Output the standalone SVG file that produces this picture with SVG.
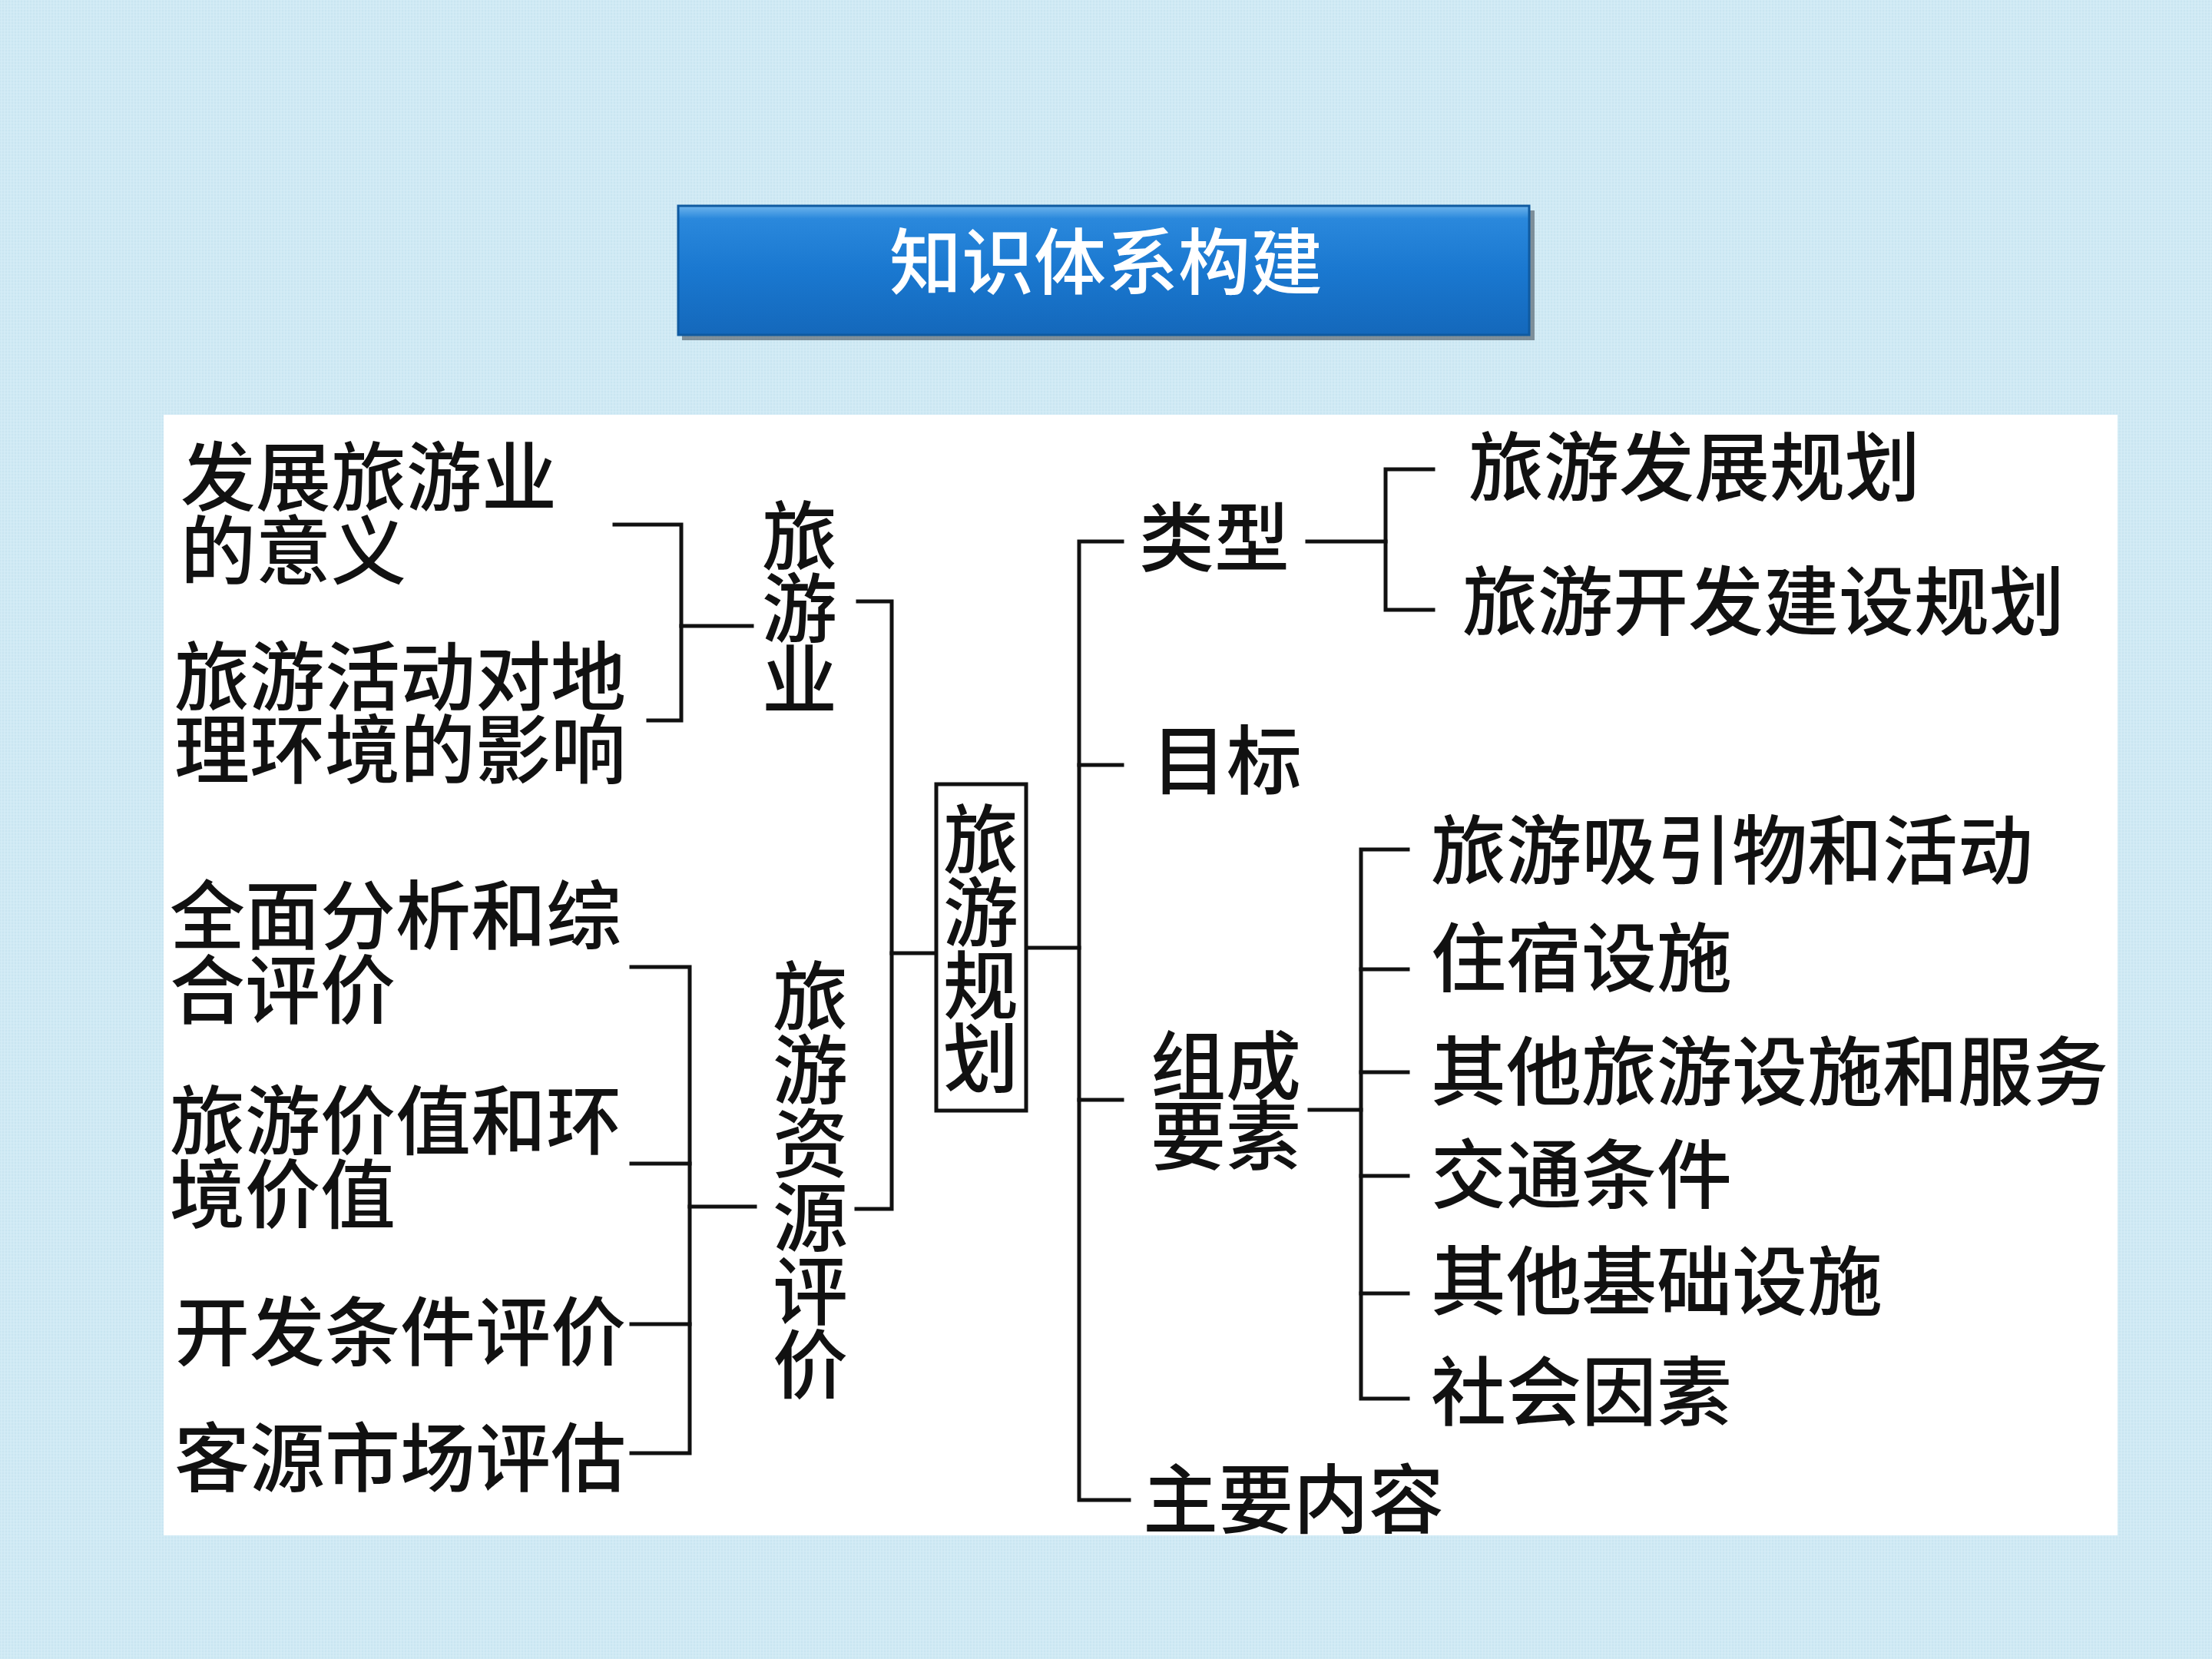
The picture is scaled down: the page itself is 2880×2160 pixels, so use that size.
<svg xmlns="http://www.w3.org/2000/svg" width="2880" height="2160" viewBox="0 0 2880 2160">
<defs>
<pattern id="tex" width="8" height="8" patternUnits="userSpaceOnUse">
<rect width="8" height="8" fill="#cfe9f4"/>
<path d="M0 2H8M0 6H8" stroke="#c3e1ee" stroke-width="1"/>
<path d="M2 0V8M6 0V8" stroke="#d9eff8" stroke-width="1"/>
</pattern>
<linearGradient id="tg" x1="0" y1="0" x2="0" y2="1">
<stop offset="0" stop-color="#6db4ec"/>
<stop offset="0.1" stop-color="#2a88dc"/>
<stop offset="0.5" stop-color="#1a78d0"/>
<stop offset="1" stop-color="#1468bb"/>
</linearGradient>
<style>
.t{font-family:"Noto Sans CJK SC","Noto Sans CJK TC",sans-serif;font-size:98px;font-weight:500;fill:#111;}
.v{text-anchor:middle;}
.ln{fill:none;stroke:#111;stroke-width:5;stroke-linecap:square;}
.title{font-family:"Noto Sans CJK SC",sans-serif;font-size:94px;font-weight:500;fill:#fff;text-anchor:middle;}
</style>
</defs>
<rect width="2880" height="2160" fill="url(#tex)"/>
<g id="title">
<rect x="888" y="274" width="1110" height="169" fill="#3a4650" opacity="0.55"/>
<rect x="883" y="268" width="1108" height="168" fill="url(#tg)" stroke="#0f5aa0" stroke-width="3"/>
<text class="title" x="1440" y="376">知识体系构建</text>
</g>
<rect id="panel" x="213" y="540" width="2544" height="1459" fill="#ffffff"/>
<g id="connectors">
<path class="ln" d="M800,683 H887 V938 H844"/>
<path class="ln" d="M887,815 H979"/>
<path class="ln" d="M822,1259 H898 V1892 H822"/>
<path class="ln" d="M822,1515 H898"/>
<path class="ln" d="M822,1724 H898"/>
<path class="ln" d="M898,1571 H983"/>
<path class="ln" d="M1117,783 H1161 V1574 H1115"/>
<path class="ln" d="M1161,1241 H1219"/>
<path class="ln" d="M1336,1234 H1405"/>
<path class="ln" d="M1461,705 H1405 V1953 H1470"/>
<path class="ln" d="M1405,996 H1461"/>
<path class="ln" d="M1405,1432 H1461"/>
<path class="ln" d="M1702,705 H1804"/>
<path class="ln" d="M1866,611 H1804 V794 H1866"/>
<path class="ln" d="M1705,1445 H1772"/>
<path class="ln" d="M1833,1106 H1772 V1821 H1833"/>
<path class="ln" d="M1772,1262 H1833"/>
<path class="ln" d="M1772,1396 H1833"/>
<path class="ln" d="M1772,1531 H1833"/>
<path class="ln" d="M1772,1684 H1833"/>
</g>
<g id="n-meaning"><text class="t" x="235" y="657">发展旅游业</text><text class="t" x="235" y="753">的意义</text></g>
<g id="n-impact"><text class="t" x="227" y="917">旅游活动对地</text><text class="t" x="227" y="1012">理环境的影响</text></g>
<g id="n-industry"><text class="t v" x="1041" y="734">旅</text><text class="t v" x="1041" y="828">游</text><text class="t v" x="1041" y="921">业</text></g>
<g id="n-analysis"><text class="t" x="221" y="1228">全面分析和综</text><text class="t" x="221" y="1325">合评价</text></g>
<g id="n-value"><text class="t" x="221" y="1495">旅游价值和环</text><text class="t" x="221" y="1591">境价值</text></g>
<g id="n-develop"><text class="t" x="227" y="1770">开发条件评价</text></g>
<g id="n-market"><text class="t" x="227" y="1934">客源市场评估</text></g>
<g id="n-resource"><text class="t v" x="1055" y="1333">旅</text><text class="t v" x="1055" y="1429">游</text><text class="t v" x="1055" y="1525">资</text><text class="t v" x="1055" y="1621">源</text><text class="t v" x="1055" y="1717">评</text><text class="t v" x="1055" y="1813">价</text></g>
<g id="n-planning"><rect x="1219" y="1021" width="117" height="425" fill="#fff" stroke="#111" stroke-width="5"/><text class="t v" x="1277" y="1129">旅</text><text class="t v" x="1277" y="1224">游</text><text class="t v" x="1277" y="1319">规</text><text class="t v" x="1277" y="1414">划</text></g>
<g id="n-type"><text class="t" x="1483" y="736">类型</text></g>
<g id="n-type1"><text class="t" x="1912" y="644">旅游发展规划</text></g>
<g id="n-type2"><text class="t" x="1904" y="819">旅游开发建设规划</text></g>
<g id="n-goal"><text class="t" x="1499" y="1026">目标</text></g>
<g id="n-elements"><text class="t" x="1498" y="1424">组成</text><text class="t" x="1498" y="1515">要素</text></g>
<g id="n-e1"><text class="t" x="1863" y="1143">旅游吸引物和活动</text></g>
<g id="n-e2"><text class="t" x="1863" y="1283">住宿设施</text></g>
<g id="n-e3"><text class="t" x="1863" y="1431">其他旅游设施和服务</text></g>
<g id="n-e4"><text class="t" x="1863" y="1565">交通条件</text></g>
<g id="n-e5"><text class="t" x="1863" y="1704">其他基础设施</text></g>
<g id="n-e6"><text class="t" x="1863" y="1848">社会因素</text></g>
<g id="n-content"><text class="t" x="1488" y="1988">主要内容</text></g>
</svg>
